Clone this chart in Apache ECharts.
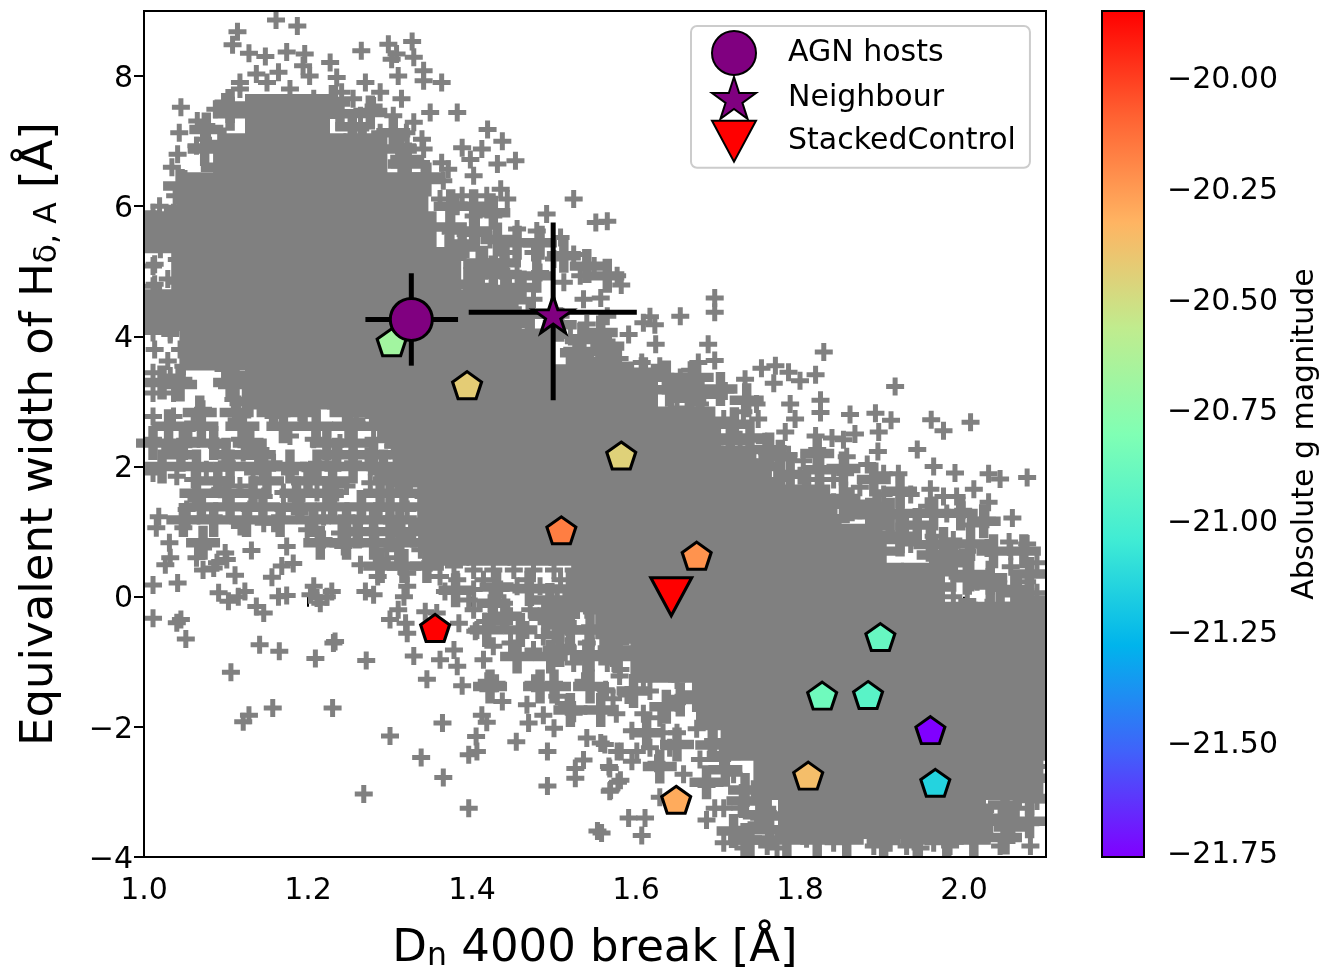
<!DOCTYPE html>
<html><head><meta charset="utf-8">
<style>html,body{margin:0;padding:0;background:#fff}#c{width:1321px;height:969px}</style>
<script src="https://cdn.jsdelivr.net/npm/echarts@6/dist/echarts.min.js"></script>
</head><body><div id="c"></div>
<script>
// Sample cloud: dense core (row y, then x values)
const coreRows = [
[7.4,[1.15,1.2]],
[6.8,[1.12,1.17,1.22,1.27]],
[6.2,[1.07,1.12,1.17,1.22,1.27,1.32]],
[5.6,[1.027,1.08,1.13,1.18,1.23,1.28,1.33]],
[5.0,[1.06,1.11,1.16,1.21,1.26,1.31,1.36]],
[4.4,[1.027,1.08,1.13,1.18,1.23,1.28,1.33,1.38,1.43]],
[3.8,[1.07,1.12,1.17,1.22,1.27,1.32,1.37,1.42,1.47]],
[3.2,[1.15,1.2,1.25,1.3,1.35,1.4,1.45,1.5,1.55,1.6]],
[2.6,[1.32,1.37,1.42,1.47,1.52,1.57,1.62,1.67]],
[2.0,[1.33,1.38,1.43,1.48,1.53,1.58,1.63,1.68,1.72]],
[1.4,[1.36,1.41,1.46,1.51,1.56,1.61,1.66,1.71,1.76,1.81]],
[0.8,[1.37,1.42,1.47,1.52,1.57,1.62,1.67,1.72,1.77,1.82,1.87]],
[0.2,[1.55,1.6,1.65,1.7,1.75,1.8,1.85,1.9,1.95]],
[-0.4,[1.59,1.64,1.69,1.74,1.79,1.84,1.89,1.94,1.99,2.04,2.073]],
[-1.0,[1.62,1.67,1.72,1.77,1.82,1.87,1.92,1.97,2.02,2.073]],
[-1.6,[1.7,1.75,1.8,1.85,1.9,1.95,2.0,2.05,2.073]],
[-2.2,[1.73,1.78,1.83,1.88,1.93,1.98,2.03,2.073]],
[-2.8,[1.77,1.82,1.87,1.92,1.97,2.02,2.07]],
[-3.4,[1.8,1.85,1.9,1.95,2.0]]
];
// Clustered crosses in the half-filled parts of the cloud
const cloudClumps = [[1.011,2.36],[1.048,2.36],[1.085,2.36],[1.129,2.36],[1.223,2.36],[1.255,2.36],[1.022,2.00],[1.064,2.00],[1.105,2.00],[1.146,2.00],[1.178,2.00],[1.211,2.00],[1.255,2.00],[1.292,2.00],[1.064,1.59],[1.101,1.59],[1.133,1.59],[1.186,1.59],[1.223,1.59],[1.288,1.59],[1.317,1.59],[1.048,1.18],[1.085,1.18],[1.125,1.18],[1.166,1.18],[1.207,1.18],[1.247,1.18],[1.280,1.18],[1.312,1.18],[1.072,0.83],[1.215,0.83],[1.247,0.83],[1.280,0.83],[1.312,0.83],[1.345,0.83],[1.288,0.47],[1.317,0.47],[1.345,0.47],[1.022,3.29],[1.105,3.29],[1.068,2.83],[1.113,2.83],[1.158,2.83],[1.194,2.83],[1.247,2.83],[1.280,2.83],
[1.03,2.62],[1.07,2.62],[1.12,2.62],[1.17,2.62],[1.21,2.62],[1.25,2.62],[1.29,2.62],[1.045,2.18],[1.10,2.18],[1.14,2.18],[1.235,2.18],[1.28,2.18],[1.32,2.18],[1.09,1.78],[1.15,1.78],[1.20,1.78],[1.23,1.78],[1.30,1.78],[1.07,1.38],[1.105,1.38],[1.145,1.38],[1.19,1.38],[1.23,1.38],[1.265,1.38],[1.30,1.38],[1.34,1.38],[1.26,1.00],[1.30,1.00],[1.34,1.00],
[1.38,0.10],[1.43,0.15],[1.47,0.12],[1.52,0.12],[1.44,-0.30],[1.49,-0.30],
[1.895,0.95],[1.90,0.70],[1.965,0.40],[1.97,0.15],[1.84,1.20],[1.845,0.95],[1.755,2.00],[1.76,1.75],[1.715,2.40],[1.72,2.65],[1.665,3.05],[1.125,3.00],[1.13,3.40],[1.09,6.60],[1.095,6.95],[1.045,5.95],[1.372,5.30],[1.395,4.80],[1.41,4.75],[1.455,4.20],[1.47,4.00],[1.52,3.50],[1.525,3.30],
[2.05,-3.70],[2.08,-3.10],[2.03,-3.45],[2.08,-3.45],[2.05,-3.20],
[1.426,-0.10],[1.516,-0.10],[1.565,-0.10],[1.418,-0.51],[1.459,-0.51],[1.520,-0.51],[1.561,-0.51],[1.455,-0.92],[1.496,-0.92],[1.540,-0.92],[1.577,-0.92],[1.422,-1.38],[1.483,-1.38],[1.500,-1.38],[1.544,-1.38],[1.557,-1.74],[1.520,-1.74],
[1.597,-1.45],[1.637,-1.69],[1.674,-1.51],[1.694,-1.98],[1.613,-2.09],[1.650,-2.27],[1.707,-2.44],[1.686,-2.85],[1.629,-2.61],[1.731,-3.14],[1.719,-3.60],[1.760,-3.37],[1.739,-3.74],[1.784,-3.74],[1.821,-3.74],[1.857,-3.74],[1.902,-3.74],[1.943,-3.74],[1.979,-3.74],[2.012,-3.74],[2.016,-3.25],[2.057,-3.54],[2.08,-2.79],
[1.609,3.42],[1.637,3.37],[1.674,3.37],[1.703,3.19],[1.735,3.02],[1.666,2.84],[1.698,2.44],[1.739,2.44],[1.776,2.15],[1.821,2.20],[1.853,1.97],[1.890,1.80],[1.922,1.62],[1.963,1.28],[1.996,1.28],[2.024,1.16],[1.943,1.10],[1.975,0.81],[2.008,0.81],[2.036,0.70],[2.073,0.70],[2.08,0.35],[2.032,0.29],[2.004,0.29],[2.065,0.06],[2.08,-0.23],[2.044,-0.18],[1.808,1.63],[1.776,1.57],[1.853,1.51],[1.894,1.39],[1.922,1.28],[1.743,1.86],[1.922,0.93],[1.963,0.64],[1.987,0.52],
[1.105,7.54],[1.076,7.18],[1.231,7.60],[1.276,7.44],[1.304,7.13],[1.044,6.31],[1.321,6.72],[1.345,6.41],[1.374,6.00],[1.402,6.00],[1.426,5.90],[1.402,5.60],[1.431,5.49],[1.455,5.44],[1.483,5.44],[1.512,5.24],[1.540,5.08],[1.414,5.13],[1.439,5.13],[1.479,4.93],[1.565,4.93],[1.557,4.06],[1.540,3.54],[1.565,3.85],[1.528,3.75],[1.577,3.54],[1.426,4.98],[1.443,4.72],
[1.074,6.88],[1.105,7.42],[1.239,7.42],[1.254,7.22],[1.266,7.00],[1.312,6.88],[1.318,6.65],[1.343,6.45],[1.373,5.68],[1.388,5.42],[1.404,5.62],[1.410,5.11],[1.440,4.95],[1.461,4.75],[1.471,4.34],[1.507,4.18],[1.534,3.95],[1.532,3.77],[1.556,3.62],[1.641,3.18],[1.678,3.11],[1.763,2.26],[1.788,1.88],[1.824,1.95],[1.861,1.42],[1.885,1.26],[1.910,1.26],[1.922,0.88],[1.959,0.80],[1.983,0.65],[2.007,0.34],[2.032,0.18],[2.062,0.11],[2.08,-0.05],[1.111,3.26],[1.044,3.26],
[1.495,-0.05],[1.526,-0.08],[1.556,-0.20],[1.507,-0.43],[1.544,-0.51],[1.571,-0.58],[1.507,-0.82],[1.544,-0.89],[1.574,-0.82],[1.654,-1.58],[1.693,-2.28],[1.709,-2.66],[1.733,-2.97],[1.751,-3.35],[1.763,-3.58],[1.733,-3.74]];
// Individual crosses: upper left, lower left, right
const cloudUpper = [[1.161,8.86],[1.187,8.77],[1.114,8.68],[1.108,8.48],[1.128,8.35],[1.148,8.30],[1.174,8.37],[1.196,8.34],[1.227,8.21],[1.265,8.39],[1.298,8.49],[1.327,8.53],[1.308,8.34],[1.329,8.29],[1.302,8.26],[1.341,8.08],[1.363,7.90],[1.310,8.00],[1.341,7.93],[1.270,7.90],[1.288,7.75],[1.314,7.65],[1.164,8.06],[1.137,8.03],[1.117,7.90],[1.202,8.00],[1.235,7.98],[1.241,7.75],[1.255,7.65],[1.045,7.52],[1.065,7.31],[1.087,7.49],[1.043,7.13],[1.072,7.03],[1.349,7.44],[1.382,7.44],[1.329,7.29],[1.419,7.18],[1.437,7.00],[1.388,6.90],[1.412,6.88],[1.453,6.70],[1.431,6.65],[1.398,6.72],[1.363,6.67],[1.371,6.57],[1.339,7.03],[1.041,6.80],[1.034,6.60],[1.064,6.93],[1.524,6.11],[1.491,5.88],[1.551,5.75],[1.565,5.77],[1.435,6.26],[1.443,6.11],[1.418,6.16],[1.388,6.16],[1.365,6.39],[1.402,6.47],[1.038,6.16],[1.019,6.00],[1.050,6.42],[1.508,5.52],[1.479,5.62],[1.455,5.65],[1.524,5.26],[1.549,5.08],[1.577,4.93],[1.475,4.57],[1.557,4.59],[1.536,4.57],[1.565,4.31],[1.540,4.19],[1.520,4.00],[1.382,6.00],[1.402,5.85],[1.426,5.85],[1.374,5.60],[1.394,5.34],[1.422,5.49],[1.443,5.29],[1.402,4.98],[1.426,5.08],[1.475,5.29],[1.500,5.19],[1.483,4.98],[1.455,4.93],[1.512,4.83],[1.532,4.93],[1.426,4.62],[1.508,4.31],[1.321,6.93],[1.280,7.54],[1.304,7.39],[1.264,7.39],[1.288,7.13],[1.320,7.13],[1.341,6.88],[1.312,6.62],[1.341,6.47],[1.361,6.11],[1.239,7.44],[1.219,7.49],[1.207,7.65],[1.178,7.80],[1.150,7.90],[1.117,7.80],[1.097,7.60],[1.194,8.16],[1.076,7.24],[1.011,5.80],[1.036,5.90],[1.060,6.31],[1.011,5.90],[1.011,5.49],[1.036,5.60],[1.040,5.18],[1.011,5.08],[1.011,4.77],[1.040,4.83],[1.019,4.67],[1.011,4.06],[1.032,4.06],[1.044,3.80],[1.011,3.44],[1.048,3.54],[1.032,3.39],[1.011,3.13],[1.036,3.13],[1.048,3.34],[1.105,3.29],[1.097,3.49],[1.109,3.03],[1.072,2.88],[1.036,2.77],[1.011,2.77],[1.060,2.67],[1.113,2.72],[1.158,2.77],[1.190,2.83],[1.235,3.03],[1.259,2.72],[1.280,2.77],[1.304,2.77],[1.013,5.11],[1.029,4.88],[1.013,4.80],[1.013,3.80],[1.029,3.62],[1.032,4.03],[1.020,5.34]];
const cloudLower = [[1.011,2.42],[1.032,2.26],[1.056,2.42],[1.011,1.90],[1.040,1.85],[1.060,1.80],[1.076,1.95],[1.101,2.06],[1.121,2.21],[1.142,2.26],[1.158,2.06],[1.178,1.90],[1.203,1.95],[1.223,2.06],[1.239,2.36],[1.255,2.06],[1.247,1.70],[1.276,1.75],[1.284,1.90],[1.272,2.16],[1.089,2.31],[1.117,2.42],[1.178,2.47],[1.207,2.42],[1.133,1.90],[1.117,1.70],[1.146,1.54],[1.170,1.60],[1.186,1.49],[1.211,1.60],[1.235,1.60],[1.170,1.34],[1.129,1.34],[1.105,1.39],[1.085,1.23],[1.117,1.08],[1.064,1.49],[1.052,1.34],[1.093,1.65],[1.158,1.13],[1.199,1.03],[1.219,0.88],[1.243,0.77],[1.247,1.23],[1.268,1.39],[1.288,1.34],[1.308,1.08],[1.284,0.83],[1.321,0.93],[1.304,0.83],[1.333,1.08],[1.321,1.34],[1.341,1.54],[1.317,1.65],[1.345,1.95],[1.321,2.06],[1.304,2.31],[1.280,2.42],[1.239,0.98],[1.264,0.98],[1.190,1.29],[1.146,1.13],[1.219,1.23],[1.288,1.60],[1.312,1.90],[1.333,2.26],[1.333,1.85],[1.353,0.98],[1.337,0.72],[1.349,0.52],[1.361,0.31],[1.353,0.77],[1.374,0.83],[1.312,0.47],[1.296,0.72],
[1.011,0.18],[1.041,0.21],[1.045,-0.35],[1.040,-0.40],[1.051,-0.65],[1.011,-0.33],[1.018,1.23],[1.015,1.06],[1.031,0.83],[1.032,0.60],[1.026,0.49],[1.048,1.06],[1.054,1.21],[1.072,0.75],[1.064,0.60],[1.072,0.41],[1.099,0.67],[1.089,0.52],[1.101,0.57],[1.085,0.44],[1.131,0.71],[1.111,0.33],[1.091,0.06],[1.103,-0.07],[1.123,0.08],[1.115,0.00],[1.137,-0.15],[1.146,-0.25],[1.164,0.00],[1.174,0.02],[1.156,0.30],[1.168,0.47],[1.182,0.51],[1.207,0.16],[1.203,0.03],[1.215,-0.10],[1.223,0.00],[1.229,0.08],[1.211,-0.02],[1.174,0.77],[1.264,0.49],[1.285,0.31],[1.270,0.08],[1.280,0.03],[1.290,0.57],[1.308,0.60],[1.321,0.36],[1.321,0.16],[1.317,0.00],[1.310,-0.20],[1.300,-0.35],[1.319,-0.41],[1.321,-0.56],[1.343,-0.23],[1.357,-0.25],[1.384,-0.41],[1.404,-0.53],[1.329,-0.91],[1.361,-0.97],[1.378,-0.82],[1.382,-1.07],[1.345,-1.27],[1.388,-1.37],[1.141,-0.74],[1.165,-0.84],[1.233,-0.69],[1.231,-0.71],[1.209,-0.95],[1.271,-0.98],[1.106,-1.16],[1.128,-1.82],[1.121,-1.92],[1.157,-1.71],[1.230,-1.71],[1.364,-1.94],[1.300,-2.14],[1.338,-2.47],[1.365,-2.78],[1.268,-3.03],[1.396,-3.25],[1.405,-2.15],[1.396,-2.43],[1.406,-2.38],[1.454,-2.23],[1.412,-1.82],[1.418,-1.93],[1.437,-1.61],[1.430,-1.33],[1.418,-1.30],[1.420,-1.43],[1.467,-1.66],[1.469,-1.94],[1.487,-1.82],[1.500,-2.02],[1.475,-1.33],[1.500,-1.33],[1.504,-1.53],[1.536,-1.30],[1.563,-1.43],[1.516,-1.64],[1.524,-1.79],[1.557,-1.74],[1.540,-2.17],[1.557,-2.25],[1.492,-2.38],[1.536,-2.51],[1.526,-2.64],[1.526,-2.79],[1.567,-2.61],[1.569,-2.97],[1.492,-2.91],[1.553,-3.60],[1.577,-2.38],[1.581,-2.82],[1.426,-0.76],[1.414,-0.97],[1.416,-0.38],[1.406,-0.51],[1.396,-0.05],[1.457,-0.53],[1.447,-0.71],[1.467,-0.51],[1.455,-0.92],[1.475,-0.82],[1.422,-0.10],[1.439,-0.10],[1.367,0.08],[1.500,-0.92],[1.524,-1.02],[1.382,0.26],[1.402,0.11],[1.435,0.11],[1.455,0.16],[1.483,0.16],[1.504,-0.05],[1.524,0.00],[1.483,-0.30],[1.500,-0.56],[1.516,-0.76],[1.540,-0.92],[1.565,-1.02],[1.581,-1.12],[1.487,-0.61],[1.516,-0.46],[1.544,-0.46],[1.565,-0.51],[1.540,-0.71],[1.581,-0.71],[1.447,-0.30],[1.471,-0.20],[1.426,-0.41],[1.402,-0.20],[1.378,0.47],[1.402,0.41],[1.426,0.41],[1.451,0.41],[1.475,0.41],[1.500,0.41],[1.524,0.41],[1.414,0.26],[1.467,0.26],[1.508,0.26],[1.540,0.16],[1.561,0.00],[1.540,-0.20],[1.565,-0.20],[1.516,-0.20],[1.495,-0.20]];
const cloudRight = [[1.582,4.79],[1.696,4.59],[1.696,4.37],[1.654,4.31],[1.617,4.30],[1.609,4.21],[1.623,4.18],[1.591,4.03],[1.624,3.88],[1.688,3.88],[1.829,3.76],[1.916,3.23],[1.753,3.51],[1.770,3.55],[1.786,3.45],[1.800,3.32],[1.819,3.41],[1.733,3.34],[1.768,3.28],[1.709,3.16],[1.696,3.63],[1.676,3.60],[1.825,3.02],[1.825,2.83],[1.788,2.96],[1.747,2.96],[1.731,2.84],[1.749,2.73],[1.794,2.73],[1.861,2.80],[1.892,2.82],[1.911,2.71],[1.960,2.72],[1.975,2.55],[2.008,2.68],[1.867,2.50],[1.896,2.53],[1.943,2.26],[1.895,2.23],[1.963,2.00],[1.989,1.90],[2.030,1.89],[2.044,1.81],[2.077,1.83],[1.819,2.47],[1.839,2.44],[1.853,2.41],[1.782,2.53],[1.757,2.38],[1.727,2.41],[1.786,2.18],[1.772,2.15],[1.821,2.26],[1.857,2.15],[1.882,2.03],[1.920,1.89],[1.902,1.89],[1.959,1.65],[1.975,1.54],[1.991,1.54],[2.012,1.65],[2.030,1.45],[2.059,1.21],[2.028,1.19],[2.008,1.10],[2.028,0.75],[2.055,0.84],[2.077,0.81],[2.089,0.52],[2.077,0.23],[2.057,0.46],[2.044,0.11],[2.089,0.06],[1.855,1.89],[1.621,3.19],[1.650,3.28],[1.678,3.19],[1.650,2.90],[1.678,2.96],[1.707,2.73],[1.607,3.60],[1.629,3.54],[1.580,3.66],[1.654,3.37],[1.666,3.48],[1.979,1.28],[1.999,1.33],[1.955,1.39],[1.935,1.57],[1.902,1.57],[1.873,1.68],[1.841,1.80],[1.804,2.09],[1.760,2.21],[1.739,2.09],[1.719,2.03],[1.727,1.80],[1.694,1.97],[2.057,0.70],[1.597,3.25],[1.572,3.83],[1.560,3.42],[1.584,3.02],[1.625,2.55],[1.666,2.55],[1.694,2.44],[1.800,1.86],[1.821,1.80],[1.776,1.80],[1.751,1.80],[1.800,1.45],[1.841,1.45],[1.873,1.33],[1.902,1.16],[1.930,1.10],[1.963,0.93],[1.987,0.87],[2.004,0.70],[1.935,0.81],[1.963,0.46],[1.987,0.35],[2.016,0.23],[2.004,-0.06],[2.044,-0.35],[2.077,-0.23],[2.089,-0.64],[2.028,-0.17],[1.987,0.00],
[1.564,-1.45],[1.576,-1.80],[1.595,-2.06],[1.562,-2.27],[1.582,-2.38],[1.595,-2.53],[1.568,-2.64],[1.578,-2.85],[1.568,-2.99],[1.591,-3.40],[1.611,-3.40],[1.607,-3.67],[1.686,-3.43],[1.696,-3.25],[1.629,-3.08],[1.558,-3.63],[1.617,-2.32],[1.641,-2.32],[1.658,-2.73],[1.686,-2.90],[1.674,-2.03],[1.694,-2.21],[1.705,-2.50],[1.719,-2.73],[1.609,-1.80],[1.589,-1.51],[1.629,-1.86],[1.650,-1.63],[1.650,-2.09],[1.625,-2.56],[1.678,-2.50],[1.707,-3.78],[1.727,-3.66],[1.747,-3.49],[1.780,-3.66],[1.760,-3.83],[1.731,-3.86],[1.772,-3.86],[1.808,-3.72],[1.796,-3.49],[1.727,-3.25],[1.743,-2.96],[1.707,-3.25],[1.617,-1.45],[1.633,-2.09],[1.650,-1.28],[1.609,-1.28],[1.580,-1.22],[1.572,-1.57],[1.601,-2.38],[1.760,-3.25],
[2.024,-2.96],[2.065,-2.85],[2.089,-2.61],[2.044,-3.37],[2.081,-3.49],[2.004,-3.54],[2.044,-3.83],[2.081,-3.83],[1.983,-3.83],[1.930,-3.83],[1.890,-3.83],[1.841,-3.78],[1.865,-3.66],[2.089,-3.14],[2.065,-3.25],[2.024,-3.54],[1.963,-3.78],[1.910,-3.78],[1.947,-3.86],[1.821,-3.60]];
// Coloured galaxies: x, y, absolute g magnitude
const galX = [1.302,1.394,1.582,1.509,1.674,1.355,1.898,1.827,1.883,1.959,1.81,1.965,1.649];
const galY = [3.91,3.25,2.17,1.02,0.63,-0.48,-0.62,-1.52,-1.51,-2.05,-2.75,-2.86,-3.12];
const galMag = [-20.68,-20.43,-20.45,-20.17,-20.23,-19.85,-20.9,-20.87,-20.95,-21.76,-20.37,-21.15,-20.3];
// Summary points: x, y, x low, x high, y low, y high
const agn = [1.326,4.26,1.27,1.383,3.55,4.97];
const neighbour = [1.499,4.37,1.396,1.601,3.02,5.75];
const control = [1.643,0.0];
const magRange = [-21.76,-19.85];
const magTicks = [-20,-20.25,-20.5,-20.75,-21,-21.25,-21.5,-21.75];
const rainbow = ['#8000ff','#4062fa','#00b4ec','#40ecd4','#80ffb4','#c0ec8e','#ffb462','#ff6232','#ff0000'];
const xTicks = [1,1.2,1.4,1.6,1.8,2];
const yTicks = [-4,-2,0,2,4,6,8];

const PLUS='path://M6.5,0H11.5V6.5H18V11.5H11.5V18H6.5V11.5H0V6.5H6.5Z';
const PENT='path://M50,0L100,36.3L81,95L19,95L0,36.3Z';
const STAR='path://M50,0L61.2,34.5L97.6,34.5L68.2,55.9L79.4,90.5L50,69.1L20.6,90.5L31.8,55.9L2.4,34.5L38.8,34.5Z';
const TRI='path://M0,0H100L50,93Z';
const FONT='"DejaVu Sans"';
const GRAY='#808080';
const corePts=[];coreRows.forEach(r=>r[1].forEach(x=>corePts.push([x,r[0]])));
const minus=s=>String(s).replace('-','\u2212');
const errItem=(p,api)=>{
  const a=api.coord([api.value(2),api.value(1)]),b=api.coord([api.value(3),api.value(1)]);
  const c=api.coord([api.value(0),api.value(4)]),d=api.coord([api.value(0),api.value(5)]);
  const st={stroke:'#000',lineWidth:5};
  return {type:'group',children:[
    {type:'line',shape:{x1:a[0],y1:a[1],x2:b[0],y2:b[1]},style:st},
    {type:'line',shape:{x1:c[0],y1:c[1],x2:d[0],y2:d[1]},style:st}]};
};
const grayScatter=(name,data,symbol,size)=>({name,type:'scatter',xAxisIndex:0,yAxisIndex:0,data,symbol,symbolSize:size,
  itemStyle:{color:GRAY,opacity:1},z:1,silent:true,clip:true});
const mk={borderColor:'#000',borderWidth:3,opacity:1};
const subRich={sub:{fontSize:31.5,fontFamily:FONT,color:'#000',verticalAlign:'bottom',padding:[16,0,0,0]}};
const chart=echarts.init(document.getElementById('c'),null,{renderer:'canvas'});
chart.setOption({
 animation:false,backgroundColor:'#fff',
 textStyle:{fontFamily:FONT,color:'#000'},
 grid:[
  {left:144,top:11,width:902,height:846,outerBoundsMode:'none',show:true,borderColor:'#000',borderWidth:2,backgroundColor:'transparent',z:10},
  {left:1102,top:11,width:42,height:846,outerBoundsMode:'none',show:true,borderColor:'#000',borderWidth:2,backgroundColor:'transparent',z:10}
 ],
 xAxis:[
  {gridIndex:0,type:'value',min:1,max:2.1,splitLine:{show:false},
   axisLine:{show:false},axisTick:{length:10,customValues:xTicks,lineStyle:{width:2,color:'#000'}},
   axisLabel:{fontSize:30,fontFamily:FONT,color:'#000',margin:19,customValues:xTicks,formatter:v=>v.toFixed(1)},
   name:'D{sub|n} 4000 break [Å]',nameLocation:'middle',nameGap:68,
   nameTextStyle:{fontSize:45,fontFamily:FONT,color:'#000',rich:subRich}},
  {gridIndex:1,type:'value',min:0,max:1,show:false}
 ],
 yAxis:[
  {gridIndex:0,type:'value',min:-4,max:9,splitLine:{show:false},
   axisLine:{show:false},axisTick:{length:10,customValues:yTicks,lineStyle:{width:2,color:'#000'}},
   axisLabel:{fontSize:30,fontFamily:FONT,color:'#000',margin:11,verticalAlign:'top',lineHeight:6,customValues:yTicks,formatter:v=>minus(v)},
   name:'Equivalent width of H{sub|δ, A} [Å]',nameLocation:'middle',nameGap:80,
   nameTextStyle:{fontSize:45,fontFamily:FONT,color:'#000',rich:subRich}},
  {gridIndex:1,type:'value',min:magRange[0],max:magRange[1],position:'right',splitLine:{show:false},
   axisLine:{show:false},
   axisTick:{length:10,customValues:magTicks,lineStyle:{width:2,color:'#000'}},
   axisLabel:{fontSize:30,fontFamily:FONT,color:'#000',margin:23,verticalAlign:'top',lineHeight:6,customValues:magTicks,formatter:v=>minus(v.toFixed(2))},
   name:'Absolute g magnitude',nameLocation:'middle',nameRotate:90,nameGap:146,
   nameTextStyle:{fontSize:30,fontFamily:FONT,color:'#000'}}
 ],
 visualMap:{type:'continuous',show:false,seriesIndex:5,dimension:2,min:magRange[0],max:magRange[1],inRange:{color:rainbow}},
 legend:{orient:'vertical',left:691,top:26,padding:[4,14,5,20],itemWidth:44,itemHeight:44,itemGap:0,
  backgroundColor:'#fff',borderColor:'#ccc',borderWidth:2,borderRadius:6,
  textStyle:{fontSize:30,fontFamily:FONT,color:'#000',padding:[0,0,0,27]},
  data:[{name:'AGN hosts',icon:'circle'},{name:'Neighbour',icon:STAR},{name:'StackedControl',icon:TRI}],z:20},
 series:[
  grayScatter('coreCloud',corePts,'rect',[44,42]),
  grayScatter('cloudClumps',cloudClumps,PLUS,34),
  grayScatter('cloudUpper',cloudUpper,PLUS,18),
  grayScatter('cloudLower',cloudLower,PLUS,18),
  grayScatter('cloudRight',cloudRight,PLUS,18),
  {name:'galaxies',type:'scatter',data:galX.map((x,i)=>[x,galY[i],galMag[i]]),symbol:PENT,symbolSize:[29,27],itemStyle:mk,z:3,silent:true},
  {name:'errors',type:'custom',renderItem:errItem,data:[agn,neighbour],z:4,silent:true,
   encode:{x:[0,2,3],y:[1,4,5]}},
  {name:'AGN hosts',type:'scatter',data:[agn.slice(0,2)],symbol:'circle',symbolSize:42,itemStyle:{color:'#800080',...mk},z:5,silent:true},
  {name:'Neighbour',type:'scatter',data:[neighbour.slice(0,2)],symbol:STAR,symbolSize:[40,37],symbolOffset:[0,2],itemStyle:{color:'#800080',...mk},z:5,silent:true},
  {name:'StackedControl',type:'scatter',data:[control],symbol:TRI,symbolSize:[41,38],itemStyle:{color:'#ff0000',...mk},z:5,silent:true},
  {name:'colorbar',type:'custom',xAxisIndex:1,yAxisIndex:1,data:[[0,magRange[0],1,magRange[1]]],silent:true,z:1,
   renderItem:(p,api)=>{
     const a=api.coord([api.value(0),api.value(3)]),b=api.coord([api.value(2),api.value(1)]);
     return {type:'rect',shape:{x:a[0],y:a[1],width:b[0]-a[0],height:b[1]-a[1]},
       style:{fill:new echarts.graphic.LinearGradient(0,1,0,0,rainbow.map((c,i)=>({offset:i/(rainbow.length-1),color:c})))}};
   }}
 ]
});
</script></body></html>
